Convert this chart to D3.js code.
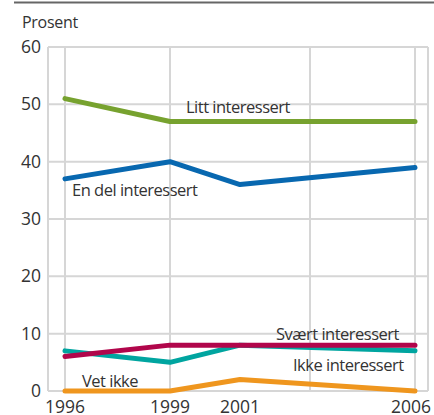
<!DOCTYPE html>
<html lang="no">
    <head>
        <meta charset="utf-8">
        <title>Interesse</title>
        <script src="https://d3js.org/d3.v7.min.js"></script>
        <style type="text/css">
            body { margin: 0; background: #fff; }
            text { font-family: "Open Sans", "Noto Sans", sans-serif; fill: #333; }
        </style>
    </head>
    <body>
        <script type="text/javascript">

            //1. consts
            const svgW = 434;
            const svgH = 415;
            const plotL = 48, plotR = 428, plotT = 47, plotB = 391;

            //2. data
            const years = [1996, 1999, 2001, 2006];
            const gridYears = [1996, 1999, 2003, 2006];
            const yTicks = [0, 10, 20, 30, 40, 50, 60];

            const littInteressert = [51, 47, 47, 47];
            const enDelInteressert = [37, 40, 36, 39];
            const svaertInteressert = [6, 8, 8, 8];
            const ikkeInteressert = [7, 5, 8, 7];
            const vetIkke = [0, 0, 2, 0];

            const seriesNames = ["Litt interessert", "En del interessert", "Ikke interessert", "Svært interessert", "Vet ikke"];
            const seriesValues = [littInteressert, enDelInteressert, ikkeInteressert, svaertInteressert, vetIkke];
            const colors = ["#77a22f", "#0868b0", "#00a5a0", "#b1064b", "#ef961e"];

            // label placement (x, y in px)
            const labelPos = [[186, 113], [72, 196], [293, 371], [276, 340], [82, 387]];

            //3. scales
            const xScale = d3.scaleLinear().domain([1996, 2006]).range([65, 415]);
            const yScale = d3.scaleLinear().domain([0, 60]).range([plotB, plotT]);

            //4. svg
            const svg = d3.select("body")
                        .append("svg")
                        .attr("width", svgW)
                        .attr("height", svgH);

            // top rule
            svg.append("line")
                .attr("x1", 14).attr("x2", svgW)
                .attr("y1", 2.5).attr("y2", 2.5)
                .attr("stroke", "#666")
                .attr("stroke-width", 2);

            svg.append("text")
                .attr("x", 22).attr("y", 28)
                .attr("font-size", "16px")
                .attr("letter-spacing", "-0.3px")
                .text("Prosent");

            // grid
            const grid = svg.append("g").attr("stroke", "#d6d6d6").attr("stroke-width", 2);
            grid.selectAll(".h").data(yTicks).enter().append("line")
                .attr("x1", plotL).attr("x2", plotR)
                .attr("y1", d => yScale(d)).attr("y2", d => yScale(d));
            grid.selectAll(".v").data(gridYears).enter().append("line")
                .attr("x1", d => xScale(d)).attr("x2", d => xScale(d))
                .attr("y1", plotT).attr("y2", plotB);
            grid.append("line").attr("x1", plotL).attr("x2", plotL).attr("y1", plotT).attr("y2", plotB);
            grid.append("line").attr("x1", plotR).attr("x2", plotR).attr("y1", plotT).attr("y2", plotB);

            // y labels
            svg.selectAll(".ylab").data(yTicks).enter().append("text")
                .attr("x", 41)
                .attr("y", d => yScale(d))
                .attr("dy", "0.35em")
                .attr("text-anchor", "end")
                .attr("font-size", "17.5px")
                .text(d => d);

            // x labels (cut at the bottom edge, as in the original)
            svg.selectAll(".xlab").data(years).enter().append("text")
                .attr("x", d => Math.min(xScale(d), 411))
                .attr("y", 413)
                .attr("text-anchor", "middle")
                .attr("font-size", "17.5px")
                .text(d => d);

            // lines
            const line = d3.line()
                .x((d, i) => xScale(years[i]))
                .y(d => yScale(d));

            svg.selectAll(".series").data(seriesValues).enter().append("path")
                .attr("d", d => line(d))
                .attr("fill", "none")
                .attr("stroke", (d, i) => colors[i])
                .attr("stroke-width", 5)
                .attr("stroke-linejoin", "round")
                .attr("stroke-linecap", "round");

            // series labels
            svg.selectAll(".slab").data(seriesNames).enter().append("text")
                .attr("x", (d, i) => labelPos[i][0])
                .attr("y", (d, i) => labelPos[i][1])
                .attr("font-size", "16.5px")
                .attr("letter-spacing", "-0.5px")
                .text(d => d);

        </script>
    </body>
</html>
